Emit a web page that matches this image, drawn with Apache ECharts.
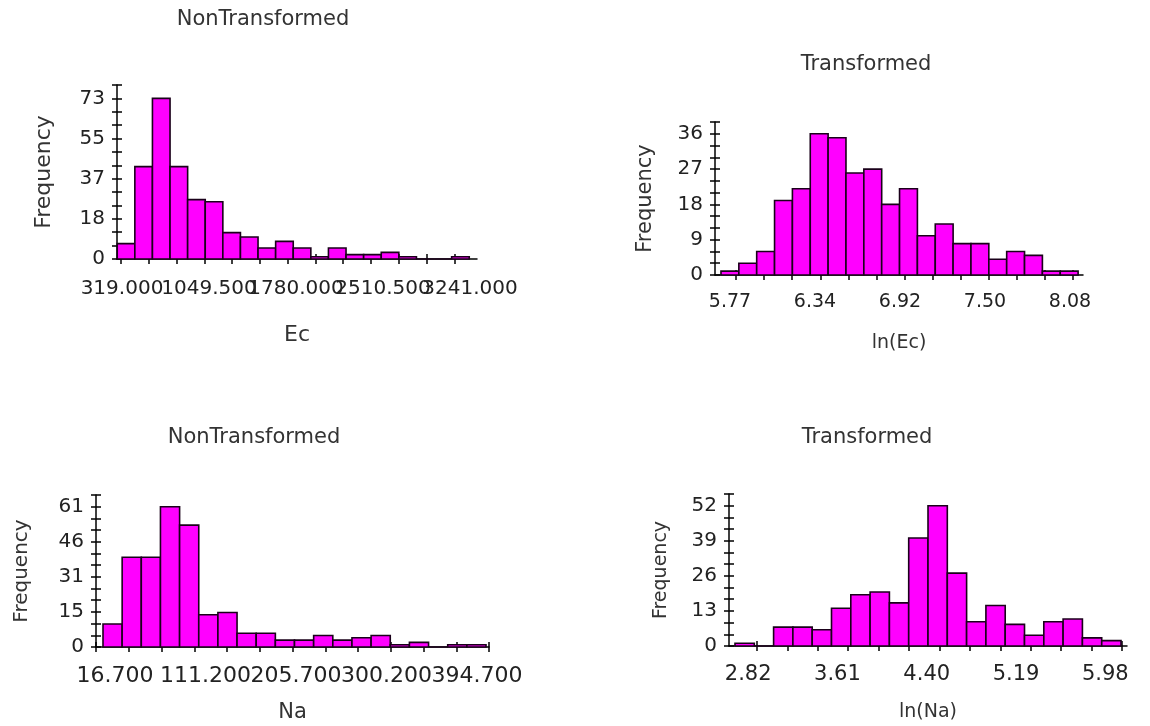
<!DOCTYPE html>
<html>
<head>
	<meta charset="utf-8"/>
	<title>Histograms</title>
</head>
<body style="margin: 0; background: #fff;">

	<div id="chart" style="width: 1150px; height: 726px;"></div>

	<script src="https://cdn.jsdelivr.net/npm/echarts@6/dist/echarts.min.js"></script>
	<script>

		// Ec, raw values
		var ecCounts = [7, 42, 73, 42, 27, 26, 12, 10, 5, 8, 5, 1, 5, 2, 2, 3, 1, 0, 0, 1];
		var ecBinStart = 286;
		var ecBinWidth = 154.3;
		var ecXLabels = ['319.000', '1049.500', '1780.000', '2510.500', '3241.000'];
		var ecYLabels = ['0', '18', '37', '55', '73'];
		var ecYMax = 73;

		// ln(Ec)
		var lnEcCounts = [1, 3, 6, 19, 22, 36, 35, 26, 27, 18, 22, 10, 13, 8, 8, 4, 6, 5, 1, 1];
		var lnEcBinStart = 5.667;
		var lnEcBinWidth = 0.1224;
		var lnEcXLabels = ['5.77', '6.34', '6.92', '7.50', '8.08'];
		var lnEcYLabels = ['0', '9', '18', '27', '36'];
		var lnEcYMax = 36;

		// Na, raw values
		var naCounts = [10, 39, 39, 61, 53, 14, 15, 6, 6, 3, 3, 5, 3, 4, 5, 1, 2, 0, 1, 1];
		var naBinStart = 23.43;
		var naBinWidth = 18.42;
		var naXLabels = ['16.700', '111.200', '205.700', '300.200', '394.700'];
		var naYLabels = ['0', '15', '31', '46', '61'];
		var naYMax = 61;

		// ln(Na)
		var lnNaCounts = [1, 0, 7, 7, 6, 14, 19, 20, 16, 40, 52, 27, 9, 15, 8, 4, 9, 10, 3, 2];
		var lnNaBinStart = 2.6295;
		var lnNaBinWidth = 0.1671;
		var lnNaXLabels = ['2.82', '3.61', '4.40', '5.19', '5.98'];
		var lnNaYLabels = ['0', '13', '26', '39', '52'];
		var lnNaYMax = 52;

		var FONT = 'DejaVu Sans';

		var panels = [
			{
				title: 'NonTransformed', xName: 'Ec',
				counts: ecCounts, binStart: ecBinStart, binWidth: ecBinWidth,
				xLabels: ecXLabels, yLabels: ecYLabels, yMax: ecYMax,
				axisX: 117, baseY: 259, topY: 85, rightX: 477, xMin: 283.9, xMax: 3440,
				labelC0: 122, labelStep: 87, labelY: 289, labelSize: 20,
				nameGap: 76, nameSize: 22, freqGap: 73, freqSize: 22,
				titleX: 263, titleY: 20, titleSize: 21
			},
			{
				title: 'Transformed', xName: 'ln(Ec)',
				counts: lnEcCounts, binStart: lnEcBinStart, binWidth: lnEcBinWidth,
				xLabels: lnEcXLabels, yLabels: lnEcYLabels, yMax: lnEcYMax,
				axisX: 715, baseY: 275, topY: 122, rightX: 1083, xMin: 5.626, xMax: 8.1485,
				labelC0: 730, labelStep: 85, labelY: 302, labelSize: 19,
				nameGap: 68, nameSize: 19, freqGap: 69, freqSize: 21,
				titleX: 866, titleY: 65, titleSize: 21
			},
			{
				title: 'NonTransformed', xName: 'Na',
				counts: naCounts, binStart: naBinStart, binWidth: naBinWidth,
				xLabels: naXLabels, yLabels: naYLabels, yMax: naYMax,
				axisX: 96, baseY: 647, topY: 495, rightX: 489, xMin: 16.7, xMax: 394.7,
				labelC0: 115, labelStep: 90.5, labelY: 676, labelSize: 22,
				nameGap: 66, nameSize: 21, freqGap: 74, freqSize: 20,
				titleX: 254, titleY: 438, titleSize: 21
			},
			{
				title: 'Transformed', xName: 'ln(Na)',
				counts: lnNaCounts, binStart: lnNaBinStart, binWidth: lnNaBinWidth,
				xLabels: lnNaXLabels, yLabels: lnNaYLabels, yMax: lnNaYMax,
				axisX: 729, baseY: 646, topY: 494, rightX: 1127, xMin: 2.5776, xMax: 6.0233,
				labelC0: 748.5, labelStep: 90, labelY: 675, labelSize: 21,
				nameGap: 66, nameSize: 19, freqGap: 68, freqSize: 19,
				titleX: 867, titleY: 438, titleSize: 21
			}
		];

		var lineStyle = { color: '#000', width: 1.5 };

		function renderBin (params, api) {
			var tl = api.coord([api.value(0), api.value(2)]);
			var br = api.coord([api.value(1), 0]);
			return {
				type: 'rect',
				shape: { x: tl[0], y: tl[1], width: br[0] - tl[0], height: br[1] - tl[1] },
				style: { fill: '#ff00ff', stroke: '#1a001a', lineWidth: 1.6 }
			};
		}

		function initChart () {
			var option = {
				animation: false,
				backgroundColor: '#fff',
				title: [], grid: [], xAxis: [], yAxis: [], series: []
			};

			panels.forEach(function (p, i) {
				var w = p.rightX - p.axisX;
				var h = p.baseY - p.topY;
				var n = p.xLabels.length;

				// ticks: three steps between labelled values
				var first = parseFloat(p.xLabels[0]);
				var last = parseFloat(p.xLabels[n - 1]);
				var steps = (n - 1) * 3;
				var xTicks = [];
				for (var k = 0; k <= steps; k++) xTicks.push(first + k * (last - first) / steps);

				var yTicks = [];
				for (var k = 0; k <= steps + 1; k++) yTicks.push(k * p.yMax / steps);
				var yLabelVals = p.yLabels.map(function (s, j) { return j * p.yMax / (n - 1); });

				var bins = p.counts.map(function (c, j) {
					return [p.binStart + j * p.binWidth, p.binStart + (j + 1) * p.binWidth, c];
				});

				option.title.push({
					text: p.title, left: p.titleX, top: p.titleY - p.titleSize / 2, textAlign: 'center', padding: 0,
					textStyle: { fontSize: p.titleSize, fontWeight: 'normal', fontFamily: FONT, color: '#333' }
				});

				option.grid.push({ left: p.axisX, top: p.topY, width: w, height: h });
				option.grid.push({ left: p.labelC0 - p.labelStep / 2, width: p.labelStep * n, top: p.baseY - 10, height: 10 });

				// main x axis, mirrored ticks, label strip
				option.xAxis.push({
					gridIndex: 2 * i, type: 'value', min: p.xMin, max: p.xMax, position: 'bottom',
					axisLine: { show: true, onZero: false, lineStyle: lineStyle },
					axisTick: { show: true, customValues: xTicks, length: 5, lineStyle: lineStyle },
					axisLabel: { show: false }, splitLine: { show: false },
					name: p.xName, nameLocation: 'middle', nameGap: p.nameGap,
					nameTextStyle: { fontSize: p.nameSize, fontFamily: FONT, color: '#333', verticalAlign: 'middle' }
				});
				option.xAxis.push({
					gridIndex: 2 * i, type: 'value', min: p.xMin, max: p.xMax, position: 'top', offset: -h,
					axisLine: { show: false, onZero: false },
					axisTick: { show: true, customValues: xTicks, length: 5, lineStyle: lineStyle },
					axisLabel: { show: false }, splitLine: { show: false }
				});
				option.xAxis.push({
					gridIndex: 2 * i + 1, type: 'category', data: p.xLabels, boundaryGap: true, position: 'bottom',
					axisLine: { show: false, onZero: false }, axisTick: { show: false }, splitLine: { show: false },
					axisLabel: {
						interval: 0, hideOverlap: false, margin: p.labelY - p.baseY, verticalAlign: 'middle',
						fontSize: p.labelSize, fontFamily: FONT, color: '#222'
					}
				});

				option.yAxis.push({
					gridIndex: 2 * i, type: 'value', min: 0, max: p.yMax * (steps + 1) / steps, position: 'left',
					axisLine: { show: true, onZero: false, lineStyle: lineStyle },
					axisTick: { show: true, customValues: yTicks, length: 5, lineStyle: lineStyle },
					axisLabel: {
						customValues: yLabelVals, margin: 12,
						fontSize: 20, fontFamily: FONT, color: '#222',
						formatter: function (v) { return p.yLabels[Math.round(v / p.yMax * (n - 1))]; }
					},
					splitLine: { show: false },
					name: 'Frequency', nameLocation: 'middle', nameRotate: 90, nameGap: p.freqGap,
					nameTextStyle: { fontSize: p.freqSize, fontFamily: FONT, color: '#333', verticalAlign: 'middle', align: 'center' }
				});
				option.yAxis.push({
					gridIndex: 2 * i, type: 'value', min: 0, max: p.yMax * (steps + 1) / steps, position: 'right', offset: -w,
					axisLine: { show: false, onZero: false },
					axisTick: { show: true, customValues: yTicks, length: 5, lineStyle: lineStyle },
					axisLabel: { show: false }, splitLine: { show: false }
				});
				option.yAxis.push({ gridIndex: 2 * i + 1, type: 'value', show: false });

				option.series.push({
					type: 'custom', xAxisIndex: 3 * i, yAxisIndex: 3 * i,
					renderItem: renderBin, encode: { x: [0, 1], y: 2 },
					clip: false, data: bins
				});
			});

			var myChart = echarts.init(document.getElementById('chart'));
			myChart.setOption(option);
		}

		window.onload = function () {
			initChart();
		}

	</script>
</body>
</html>
